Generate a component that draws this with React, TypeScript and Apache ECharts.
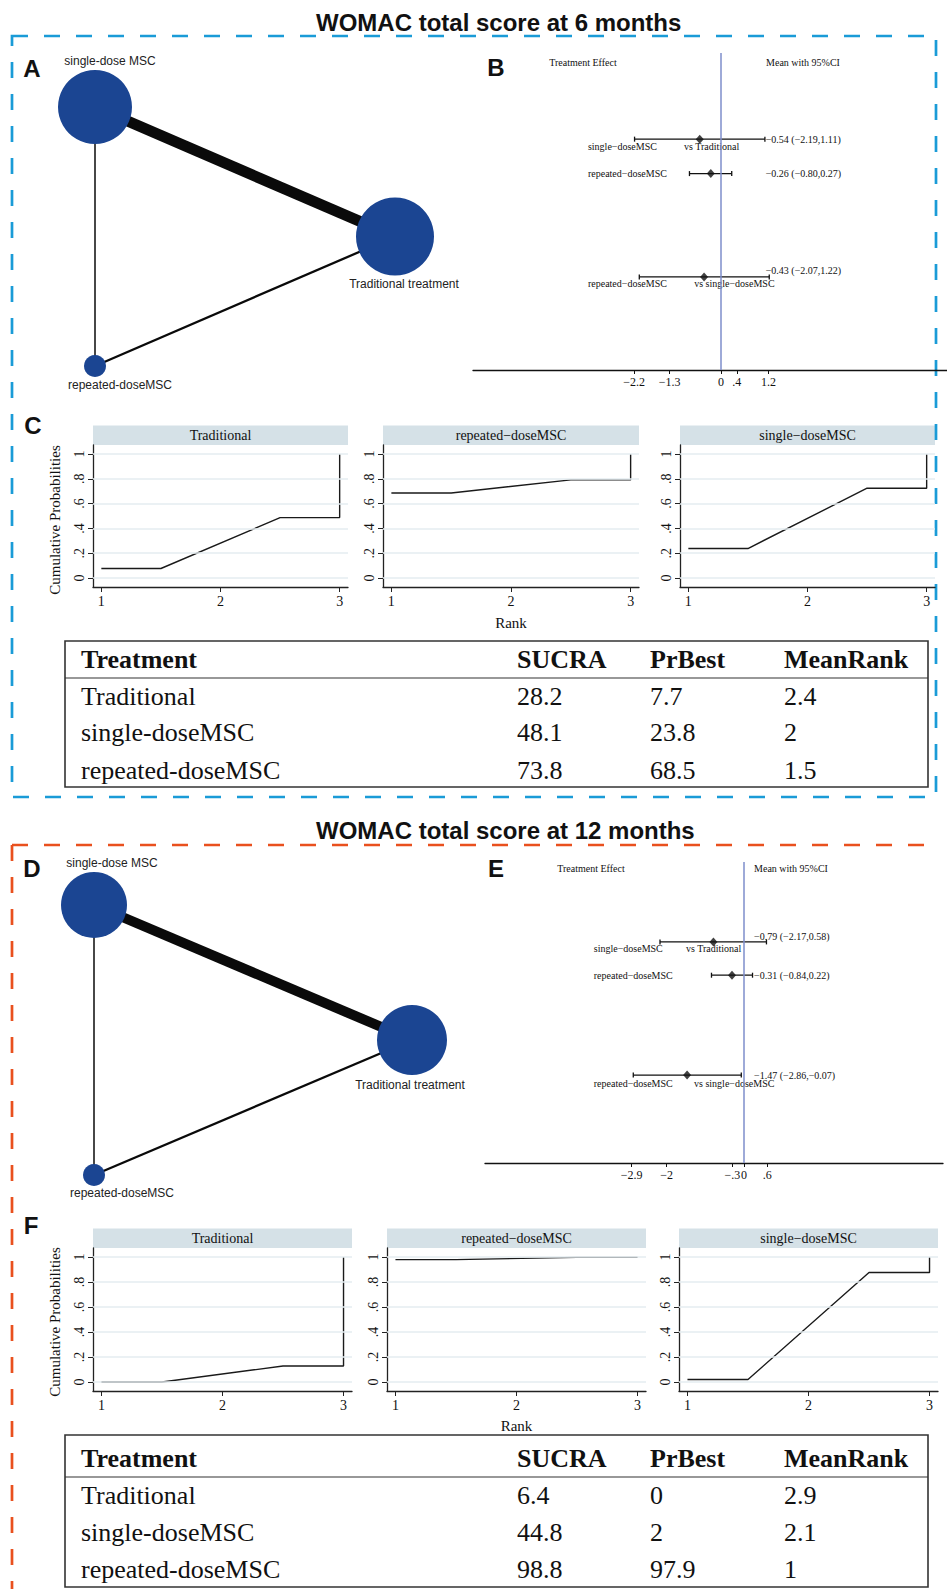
import React, { useEffect, useRef } from 'react';
import * as echarts from 'echarts';

const W = 947;
const H = 1589;
const SERIF = '"Liberation Serif", "Times New Roman", serif';
const SANS = '"Liberation Sans", Arial, sans-serif';

// ---------- Network plots (A, D) ----------
const netNodes = ['single-dose MSC', 'Traditional treatment', 'repeated-doseMSC'];
const netLayout = [[0, 1], [1, 0.5], [0, 0]];
const netEdges = [[0, 1], [0, 2], [2, 1]];
const netA_nodeSize = [74, 78, 22];
const netA_edgeWidth = [11, 1.5, 2.3];
const netD_nodeSize = [66, 70, 22];
const netD_edgeWidth = [10, 1.5, 2.3];

// ---------- Forest plots (B, E) ----------
const forestLeft = ['single−doseMSC', 'repeated−doseMSC', 'repeated−doseMSC'];
const forestVs = ['vs Traditional', '', 'vs single−doseMSC'];
const forestRows = [1, 2, 5];
const forestB_mean = [-0.54, -0.26, -0.43];
const forestB_lo = [-2.19, -0.8, -2.07];
const forestB_hi = [1.11, 0.27, 1.22];
const forestB_ticks = [-2.2, -1.3, 0, 0.4, 1.2];
const forestE_mean = [-0.79, -0.31, -1.47];
const forestE_lo = [-2.17, -0.84, -2.86];
const forestE_hi = [0.58, 0.22, -0.07];
const forestE_ticks = [-2.9, -2, -0.3, 0, 0.6];

// ---------- Rank plots (C, F): cumulative probability at rank 1, 2, 3 ----------
const rankTreatments = ['Traditional', 'repeated−doseMSC', 'single−doseMSC'];
const rankC_cum = [[0.077, 0.487, 1], [0.685, 0.791, 1], [0.238, 0.724, 1]];
const rankF_cum = [[0, 0.128, 1], [0.979, 0.997, 1], [0.02, 0.876, 1]];
const rankYTicks = [0, 0.2, 0.4, 0.6, 0.8, 1];
const rankXTicks = [1, 2, 3];

// ---------- Tables ----------
const tableHeader = ['Treatment', 'SUCRA', 'PrBest', 'MeanRank'];
const tableTreatments = ['Traditional', 'single-doseMSC', 'repeated-doseMSC'];
const tableC_sucra = ['28.2', '48.1', '73.8'];
const tableC_prbest = ['7.7', '23.8', '68.5'];
const tableC_meanrank = ['2.4', '2', '1.5'];
const tableF_sucra = ['6.4', '44.8', '98.8'];
const tableF_prbest = ['0', '2', '97.9'];
const tableF_meanrank = ['2.9', '2.1', '1'];

const fmtTick = (v: number) => {
  if (Math.abs(v) < 1e-9) return '0';
  let s = Math.abs(v).toString();
  if (s.startsWith('0.')) s = s.slice(1);
  return (v < 0 ? '−' : '') + s;
};
const fmt2 = (v: number) => (v < 0 ? '−' : '') + Math.abs(v).toFixed(2);
const fmtProb = (v: number) => (v === 0 ? '0' : v >= 1 ? '1' : '.' + Math.round(v * 10));

function buildOption() {
  const grid: any[] = [];
  const xAxis: any[] = [];
  const yAxis: any[] = [];
  const series: any[] = [];
  const graphic: any[] = [];

  const text = (x: number, y: number, t: string, size: number, opts: any = {}) => {
    graphic.push({
      type: 'text',
      x,
      y,
      rotation: opts.rotation || 0,
      silent: true,
      style: {
        text: t,
        fontSize: size,
        fontFamily: opts.family || SANS,
        fontWeight: opts.weight || 'normal',
        fill: opts.color || '#111',
        align: opts.align || 'center',
        verticalAlign: 'middle',
      },
    });
  };

  // ---- network ----
  const addNetwork = (rect: any, sizes: number[], widths: number[], labels: any[]) => {
    const gi = grid.length;
    grid.push(rect);
    xAxis.push({ gridIndex: gi, type: 'value', min: 0, max: 1, show: false });
    yAxis.push({ gridIndex: gi, type: 'value', min: 0, max: 1, show: false });
    series.push({
      type: 'graph',
      coordinateSystem: 'cartesian2d',
      xAxisIndex: gi,
      yAxisIndex: gi,
      silent: true,
      symbol: 'circle',
      data: netNodes.map((n, i) => ({
        name: n,
        value: netLayout[i],
        symbolSize: sizes[i],
        label: { show: true, ...labels[i] },
      })),
      links: netEdges.map(([s, t], k) => ({ source: s, target: t, lineStyle: { width: widths[k] } })),
      itemStyle: { color: '#1b4592' },
      lineStyle: { color: '#0a0a0a', opacity: 1, curveness: 0 },
      label: { show: true, color: '#222', fontFamily: SANS, fontSize: 12 },
    });
  };
  addNetwork({ left: 95, top: 107, width: 300, height: 259 }, netA_nodeSize, netA_edgeWidth, [
    { position: 'top', distance: 3, offset: [15, 0] },
    { position: 'bottom', distance: 2, offset: [9, 0] },
    { position: 'bottom', distance: 2, offset: [25, 0] },
  ]);

  // ---- forest ----
  const addForest = (
    rect: any, xr: number[], yr: number[], mean: number[], lo: number[], hi: number[], ticks: number[],
    pos: { leftX: number; vsX: number[]; valueX: number; leftDy: number[]; valueDy: number[] }
  ) => {
    const gi = grid.length;
    grid.push(rect);
    xAxis.push({
      gridIndex: gi, type: 'value', min: xr[0], max: xr[1],
      axisLine: { show: true, onZero: false, lineStyle: { color: '#111', width: 1.3 } },
      axisTick: { show: true, customValues: ticks, length: 4, lineStyle: { color: '#111', width: 1 } },
      axisLabel: { customValues: ticks, formatter: (v: number) => fmtTick(v), fontFamily: SERIF, fontSize: 12, color: '#111', margin: 6 },
      splitLine: { show: false },
    });
    yAxis.push({ gridIndex: gi, type: 'value', min: yr[0], max: yr[1], inverse: true, show: false });
    series.push({
      type: 'custom',
      xAxisIndex: gi,
      yAxisIndex: gi,
      silent: true,
      data: forestRows.map((r, i) => [lo[i], hi[i], r]),
      encode: { x: [0, 1], y: 2 },
      renderItem: (params: any, api: any) => {
        const a = api.coord([api.value(0), api.value(2)]);
        const b = api.coord([api.value(1), api.value(2)]);
        const y = a[1];
        const st = { stroke: '#111', lineWidth: 1.3 };
        return {
          type: 'group',
          children: [
            { type: 'line', shape: { x1: a[0], y1: y, x2: b[0], y2: y }, style: st },
            { type: 'line', shape: { x1: a[0], y1: y - 2.5, x2: a[0], y2: y + 2.5 }, style: st },
            { type: 'line', shape: { x1: b[0], y1: y - 2.5, x2: b[0], y2: y + 2.5 }, style: st },
          ],
        };
      },
    });
    series.push({
      type: 'scatter',
      xAxisIndex: gi,
      yAxisIndex: gi,
      silent: true,
      symbol: 'diamond',
      symbolSize: [8, 9],
      itemStyle: { color: '#111' },
      data: forestRows.map((r, i) => [mean[i], r]),
      z: 4,
      markLine: {
        silent: true,
        symbol: 'none',
        label: { show: false },
        lineStyle: { color: '#7e8ecb', width: 1.5, type: 'solid' },
        data: [{ xAxis: 0 }],
      },
    });
    series.push({
      type: 'custom',
      xAxisIndex: gi,
      yAxisIndex: gi,
      silent: true,
      data: forestRows.map((r, i) => [mean[i], r, i]),
      encode: { x: 0, y: 1 },
      renderItem: (params: any, api: any) => {
        const i = api.value(2);
        const row = api.value(1);
        const mk = (xv: number, dy: number, t: string) => {
          const p = api.coord([xv, row]);
          return {
            type: 'text',
            x: p[0],
            y: p[1] + dy,
            style: { text: t, fill: '#111', fontFamily: SERIF, fontSize: 10, align: 'left', verticalAlign: 'middle' },
          };
        };
        const children: any[] = [
          mk(pos.leftX, pos.leftDy[i], forestLeft[i]),
          mk(pos.valueX, pos.valueDy[i], `${fmt2(mean[i])} (${fmt2(lo[i])},${fmt2(hi[i])})`),
        ];
        if (forestVs[i]) children.push(mk(pos.vsX[i], pos.leftDy[i], forestVs[i]));
        return { type: 'group', children };
      },
    });
  };
  addForest({ left: 473, top: 53, width: 474, height: 317 }, [-6.28, 5.72], [-1.5, 7.7],
    forestB_mean, forestB_lo, forestB_hi, forestB_ticks,
    { leftX: -3.37, vsX: [-0.94, 0, -0.68], valueX: 1.13, leftDy: [7, 0, 7], valueDy: [0, 0, -6] });

  // ---- rank plots ----
  const addRank = (rects: any[], cums: number[][], rankNameGap: number) => {
    rects.forEach((rect, k) => {
      const gi = grid.length;
      grid.push(rect);
      xAxis.push({
        gridIndex: gi, type: 'value', min: 0.93, max: 3.07,
        axisLine: { show: true, onZero: false, lineStyle: { color: '#222', width: 1.3 } },
        axisTick: { show: true, customValues: rankXTicks, length: 5, lineStyle: { color: '#222' } },
        axisLabel: { customValues: rankXTicks, fontFamily: SERIF, fontSize: 14, color: '#111', margin: 7 },
        splitLine: { show: false },
        name: k === 1 ? 'Rank' : '',
        nameLocation: 'middle',
        nameGap: rankNameGap,
        nameTextStyle: { fontFamily: SERIF, fontSize: 15, color: '#111' },
      });
      yAxis.push({
        gridIndex: gi, type: 'value', min: -0.072, max: 1.072,
        axisLine: { show: true, onZero: false, lineStyle: { color: '#222', width: 1.3 } },
        axisTick: { show: true, customValues: rankYTicks, length: 5, lineStyle: { color: '#222' } },
        axisLabel: { customValues: rankYTicks, rotate: 90, formatter: (v: number) => fmtProb(v), fontFamily: SERIF, fontSize: 14, color: '#111', margin: 7 },
        splitLine: { show: false },
      });
      series.push({
        type: 'line', xAxisIndex: gi, yAxisIndex: gi, silent: true, data: [], z: 1,
        markLine: {
          silent: true, symbol: 'none', label: { show: false },
          lineStyle: { color: '#e4edf1', width: 1.5, type: 'solid' },
          data: rankYTicks.map((v) => ({ yAxis: v })),
        },
      });
      const c = cums[k];
      series.push({
        type: 'line', xAxisIndex: gi, yAxisIndex: gi, silent: true, showSymbol: false, z: 3,
        lineStyle: { color: '#1a1a1a', width: 1.4 },
        data: [[1, c[0]], [1.5, c[0]], [2.5, c[1]], [3, c[1]], [3, c[2]]],
      });
      graphic.push({
        type: 'rect', silent: true,
        shape: { x: rect.left, y: rect.top - 19.5, width: rect.width, height: 19.5 },
        style: { fill: '#d5e1e7' },
      });
      text(rect.left + rect.width / 2, rect.top - 10, rankTreatments[k], 14, { family: SERIF });
    });
  };
  addRank([
    { left: 93, top: 445, width: 255, height: 142 },
    { left: 383, top: 445, width: 256, height: 142 },
    { left: 680, top: 445, width: 255, height: 142 },
  ], rankC_cum, 28);

  // ---- second half ----
  addNetwork({ left: 94, top: 905, width: 318, height: 270 }, netD_nodeSize, netD_edgeWidth, [
    { position: 'top', distance: 3, offset: [18, 0] },
    { position: 'bottom', distance: 4, offset: [-2, 0] },
    { position: 'bottom', distance: 1, offset: [28, 0] },
  ]);
  addForest({ left: 485, top: 862, width: 458, height: 301 }, [-6.69, 5.14], [-1.4, 7.64],
    forestE_mean, forestE_lo, forestE_hi, forestE_ticks,
    { leftX: -3.88, vsX: [-1.5, 0, -1.29], valueX: 0.26, leftDy: [7, 0, 8], valueDy: [-5, 0, 0] });
  addRank([
    { left: 93, top: 1248, width: 259, height: 143 },
    { left: 387, top: 1248, width: 259, height: 143 },
    { left: 679, top: 1248, width: 259, height: 143 },
  ], rankF_cum, 27);

  // ---- frames, titles, letters ----
  graphic.push({
    type: 'rect', silent: true,
    shape: { x: 12, y: 36, width: 924, height: 761 },
    style: { fill: 'none', stroke: '#1a9bd7', lineWidth: 2.7, lineDash: [16, 16] },
  });
  graphic.push({
    type: 'line', silent: true,
    shape: { x1: 12, y1: 845, x2: 936, y2: 845 },
    style: { stroke: '#e9501e', lineWidth: 2.7, lineDash: [16, 16] },
  });
  graphic.push({
    type: 'line', silent: true,
    shape: { x1: 12, y1: 845, x2: 12, y2: 1589 },
    style: { stroke: '#e9501e', lineWidth: 2.7, lineDash: [16, 16] },
  });
  text(316, 22, 'WOMAC total score at 6 months', 24, { weight: 'bold', align: 'left' });
  text(316, 830, 'WOMAC total score at 12 months', 24, { weight: 'bold', align: 'left' });
  text(32, 68, 'A', 24, { weight: 'bold' });
  text(496, 67, 'B', 24, { weight: 'bold' });
  text(33, 425, 'C', 24, { weight: 'bold' });
  text(32, 868, 'D', 24, { weight: 'bold' });
  text(496, 868, 'E', 24, { weight: 'bold' });
  text(31, 1225, 'F', 24, { weight: 'bold' });

  // forest headers
  text(583, 62, 'Treatment Effect', 10, { family: SERIF });
  text(803, 62, 'Mean with 95%CI', 10, { family: SERIF });
  text(591, 868, 'Treatment Effect', 10, { family: SERIF });
  text(791, 868, 'Mean with 95%CI', 10, { family: SERIF });

  // rank y titles
  text(55, 520, 'Cumulative Probabilities', 15, { family: SERIF, rotation: Math.PI / 2 });
  text(55, 1322, 'Cumulative Probabilities', 15, { family: SERIF, rotation: Math.PI / 2 });

  // ---- tables ----
  const colX = [81, 517, 650, 784];
  const addTable = (top: number, bottom: number, sep: number, headY: number, rowYs: number[], cols: string[][]) => {
    graphic.push({
      type: 'rect', silent: true,
      shape: { x: 65, y: top, width: 863, height: bottom - top },
      style: { fill: 'none', stroke: '#333', lineWidth: 1.6 },
    });
    graphic.push({
      type: 'line', silent: true,
      shape: { x1: 65, y1: sep, x2: 928, y2: sep },
      style: { stroke: '#333', lineWidth: 1.2 },
    });
    tableHeader.forEach((h, j) => text(colX[j], headY, h, 26, { family: SERIF, weight: 'bold', align: 'left' }));
    tableTreatments.forEach((t, i) => {
      text(colX[0], rowYs[i], t, 26, { family: SERIF, align: 'left' });
      cols.forEach((c, j) => text(colX[j + 1], rowYs[i], c[i], 26, { family: SERIF, align: 'left' }));
    });
  };
  addTable(641, 787, 678, 659, [696, 732, 770], [tableC_sucra, tableC_prbest, tableC_meanrank]);
  addTable(1435, 1587, 1477, 1458, [1495, 1532, 1569], [tableF_sucra, tableF_prbest, tableF_meanrank]);

  return {
    animation: false,
    backgroundColor: '#ffffff',
    grid,
    xAxis,
    yAxis,
    series,
    graphic,
  };
}

export default function App() {
  const ref = useRef<HTMLDivElement>(null);
  useEffect(() => {
    const chart = echarts.init(ref.current!, null, { renderer: 'svg' });
    chart.setOption(buildOption() as any);
    return () => chart.dispose();
  }, []);
  return (
    <div
      ref={ref}
      style={{ position: 'absolute', left: 0, top: 0, width: W, height: H, background: '#fff' }}
    />
  );
}
